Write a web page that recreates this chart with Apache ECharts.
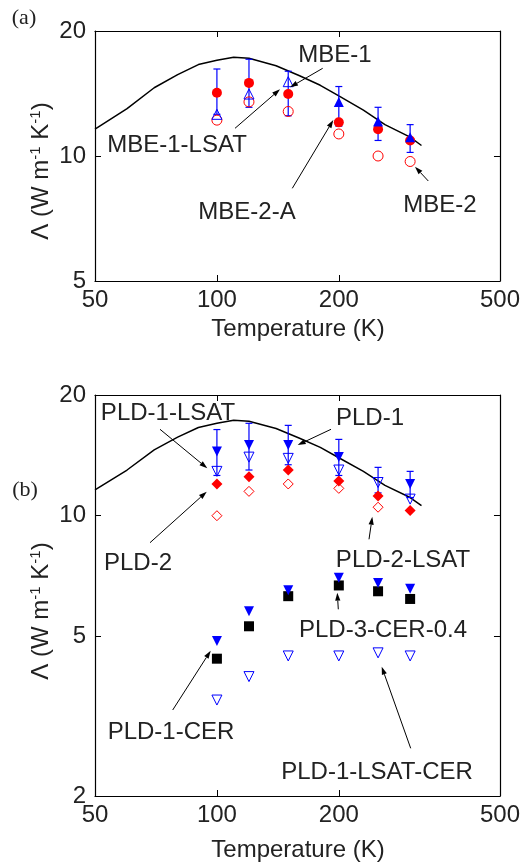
<!DOCTYPE html>
<html>
<head>
<meta charset="utf-8">
<title>Thermal conductivity vs temperature</title>
<style>
    html, body { margin: 0; padding: 0; background: #fff; }
    #main { width: 523px; height: 865px; }
</style>
</head>
<body>
<div id="main"></div>
<script src="https://cdn.jsdelivr.net/npm/echarts@6/dist/echarts.min.js"></script>
<script>
// ---- data ----
var temps = [100, 120, 150, 200, 250, 300];
var xTicks = [50, 100, 200, 500];
var yTicksA = [5, 10, 20];
var yTicksB = [2, 5, 10, 20];

// theory curve (same in both panels)
var curveT = [50, 60, 70, 80, 90, 100, 110, 120, 140, 160, 180, 200, 230, 260, 300, 320];
var curveV = [11.6, 13.0, 14.6, 15.7, 16.6, 17.0, 17.3, 17.2, 16.5, 15.6, 14.8, 13.95, 12.9, 11.9, 11.1, 10.6];

// panel (a)
var mbeFilledCircle = [14.2, 15.0, 14.1, 12.05, 11.6, 10.9];
var mbeOpenCircle = [12.2, 13.5, 12.8, 11.3, 10.0, 9.7];
var lsatT = [100, 120, 150];
var mbeOpenTri = [12.6, 14.1, 15.1];
var mbeT2 = [200, 250, 300];
var mbeFilledTri = [13.5, 12.1, 11.1];
var errLowA = [12.6, 13.1, 12.5, 11.8, 10.9, 10.2];
var errHighA = [16.2, 17.1, 16.0, 14.7, 13.1, 11.9];

// panel (b)
var pld1 = [14.45, 15.0, 15.0, 14.0, null, 12.0];
var pld1Lsat = [12.9, 14.0, 13.9, 13.0, 12.1, 11.0];
var pld2 = [12.0, 12.5, 13.0, 12.2, 11.2, 10.3];
var pld2LsatT = [100, 120, 150, 200, 250];
var pld2Lsat = [10.0, 11.5, 12.0, 11.7, 10.5];
var errLowB = [12.6, 13.0, 13.4, 12.6, 11.4, 11.1];
var errHighB = [16.4, 17.0, 16.8, 15.5, 13.2, 12.9];
var pld1Cer = [4.87, 5.78, 6.52, 7.0, 6.8, 6.57];
var pld3Cer = [4.40, 5.30, 6.30, 6.70, 6.48, 6.2];
var pld1LsatCer = [3.47, 3.97, 4.47, 4.47, 4.55, 4.47];

// ---- helpers ----
var FONT = 'Liberation Sans, Arial, sans-serif';
var RED = '#ff0000', BLUE = '#0000ff';

function pairs(xs, ys) {
    var out = [];
    for (var i = 0; i < xs.length; i++) {
        if (ys[i] != null) out.push([xs[i], ys[i]]);
    }
    return out;
}
function errData(lo, hi) {
    return temps.map(function (t, i) { return [t, lo[i], hi[i]]; });
}

function xAxis(grid, pos) {
    var main = pos === 'bottom';
    return {
        type: 'log', logBase: 10, gridIndex: grid, position: pos, min: 50, max: 500,
        axisLine: { show: true, onZero: false, lineStyle: { color: '#000', width: 1.2 } },
        axisTick: { show: true, inside: true, length: 6, customValues: xTicks, lineStyle: { color: '#000' } },
        axisLabel: { show: main, customValues: xTicks, margin: 7, color: '#222', fontSize: 24, fontFamily: FONT },
        splitLine: { show: false }, minorTick: { show: false }
    };
}
function yAxis(grid, pos, min, ticks) {
    var main = pos === 'left';
    return {
        type: 'log', logBase: 10, gridIndex: grid, position: pos, min: min, max: 20,
        axisLine: { show: true, onZero: false, lineStyle: { color: '#000', width: 1.2 } },
        axisTick: { show: true, inside: true, length: 6, customValues: ticks, lineStyle: { color: '#000' } },
        axisLabel: { show: main, customValues: ticks, margin: 9, color: '#222', fontSize: 24, fontFamily: FONT },
        splitLine: { show: false }, minorTick: { show: false }
    };
}

function scatter(ax, data, symbol, size, fill, stroke, rotate) {
    return {
        type: 'scatter', xAxisIndex: ax, yAxisIndex: ax, data: data,
        symbol: symbol, symbolSize: size, symbolRotate: rotate || 0, z: 4,
        itemStyle: { color: fill, borderColor: stroke, borderWidth: fill === 'transparent' ? 1 : 0, opacity: 1 }
    };
}
function curve(ax) {
    return {
        type: 'line', xAxisIndex: ax, yAxisIndex: ax, data: pairs(curveT, curveV),
        showSymbol: false, symbol: 'none', z: 2,
        lineStyle: { color: '#000', width: 1.5 }
    };
}
function errorBars(ax, data) {
    return {
        type: 'custom', xAxisIndex: ax, yAxisIndex: ax, data: data, z: 3,
        encode: { x: 0, y: [1, 2] },
        renderItem: function (params, api) {
            var x = api.value(0);
            var p1 = api.coord([x, api.value(1)]);
            var p2 = api.coord([x, api.value(2)]);
            var w = 3.5, st = { stroke: BLUE, lineWidth: 1.2 };
            return {
                type: 'group', children: [
                    { type: 'line', shape: { x1: p1[0], y1: p1[1], x2: p2[0], y2: p2[1] }, style: st },
                    { type: 'line', shape: { x1: p1[0] - w, y1: p1[1], x2: p1[0] + w, y2: p1[1] }, style: st },
                    { type: 'line', shape: { x1: p2[0] - w, y1: p2[1], x2: p2[0] + w, y2: p2[1] }, style: st }
                ]
            };
        }
    };
}

// annotations: [text, tx, ty, arrow x1, y1, x2, y2] in pixels
var notes = [
    ['MBE-1', 335, 55, 322.7, 68.3, 290, 87.3],
    ['MBE-1-LSAT', 177, 145, 235, 128.3, 280, 89.3],
    ['MBE-2-A', 247, 212, 292.3, 188.3, 333.3, 120],
    ['MBE-2', 440, 205, 428.3, 181, 415, 166.7],
    ['PLD-1-LSAT', 168, 413, 160, 429.3, 207.3, 468.3],
    ['PLD-1', 370, 418, 331, 429.3, 297.7, 445],
    ['PLD-2', 138, 563, 150, 542.7, 206.7, 491.7],
    ['PLD-2-LSAT', 403, 560, 369, 539.3, 372.3, 516.7],
    ['PLD-3-CER-0.4', 383, 630, 338.3, 609.3, 337.3, 592.7],
    ['PLD-1-CER', 171, 732, 172.7, 710, 210.7, 650.7],
    ['PLD-1-LSAT-CER', 377, 772, 410.7, 748.3, 381.7, 666.7]
];

function arrow(x1, y1, x2, y2) {
    var a = Math.atan2(y2 - y1, x2 - x1), L = 8, W = 2.6;
    var bx = x2 - L * Math.cos(a), by = y2 - L * Math.sin(a);
    var sx = W * Math.sin(a), sy = W * Math.cos(a);
    return [
        { type: 'line', shape: { x1: x1, y1: y1, x2: bx, y2: by }, style: { stroke: '#000', lineWidth: 1 }, z: 10 },
        { type: 'polygon', shape: { points: [[x2, y2], [bx + sx, by - sy], [bx - sx, by + sy]] }, style: { fill: '#000' }, z: 10 }
    ];
}

var graphics = [];
notes.forEach(function (n) {
    graphics.push({
        type: 'text', x: n[1], y: n[2], z: 10,
        style: { text: n[0], font: '24px ' + FONT, fill: '#222', align: 'center', verticalAlign: 'middle' }
    });
    graphics = graphics.concat(arrow(n[3], n[4], n[5], n[6]));
});
[['(a)', 24, 18], ['(b)', 25, 490]].forEach(function (p) {
    graphics.push({
        type: 'text', x: p[1], y: p[2],
        style: { text: p[0], font: '22px Liberation Serif, Times New Roman, serif', fill: '#222', align: 'center', verticalAlign: 'middle' }
    });
});
[171, 611].forEach(function (cy) {
    graphics.push({
        type: 'text', x: 41, y: cy, rotation: Math.PI / 2,
        style: {
            text: 'Λ (W m{s|-1} K{s|-1})',
            font: '24px ' + FONT, fill: '#222', align: 'center', verticalAlign: 'middle',
            rich: { s: { fontSize: 15, fontFamily: FONT, fill: '#222', verticalAlign: 'top', lineHeight: 26 } }
        }
    });
});
[329, 850].forEach(function (cy) {
    graphics.push({
        type: 'text', x: 298, y: cy,
        style: { text: 'Temperature (K)', font: '24px ' + FONT, fill: '#222', align: 'center', verticalAlign: 'middle' }
    });
});

var chart = echarts.init(document.getElementById('main'));
chart.setOption({
    animation: false,
    backgroundColor: '#fff',
    grid: [
        { left: 95, top: 31, width: 406, height: 250 },
        { left: 95, top: 395, width: 406, height: 401 }
    ],
    xAxis: [xAxis(0, 'bottom'), xAxis(1, 'bottom'), xAxis(0, 'top'), xAxis(1, 'top')],
    yAxis: [yAxis(0, 'left', 5, yTicksA), yAxis(1, 'left', 2, yTicksB), yAxis(0, 'right', 5, yTicksA), yAxis(1, 'right', 2, yTicksB)],
    series: [
        curve(0),
        errorBars(0, errData(errLowA, errHighA)),
        scatter(0, pairs(temps, mbeFilledCircle), 'circle', 10, RED, RED),
        scatter(0, pairs(temps, mbeOpenCircle), 'circle', 10, 'transparent', RED),
        scatter(0, pairs(lsatT, mbeOpenTri), 'triangle', 10, 'transparent', BLUE),
        scatter(0, pairs(mbeT2, mbeFilledTri), 'triangle', 10, BLUE, BLUE),

        curve(1),
        errorBars(1, errData(errLowB, errHighB)),
        scatter(1, pairs(temps, pld2), 'diamond', 11, RED, RED),
        scatter(1, pairs(pld2LsatT, pld2Lsat), 'diamond', 10, 'transparent', RED),
        scatter(1, pairs(temps, pld1), 'triangle', 10, BLUE, BLUE, 180),
        scatter(1, pairs(temps, pld1Lsat), 'triangle', 10, 'transparent', BLUE, 180),
        scatter(1, pairs(temps, pld3Cer), 'rect', 10, '#000', '#000'),
        scatter(1, pairs(temps, pld1Cer), 'triangle', 10, BLUE, BLUE, 180),
        scatter(1, pairs(temps, pld1LsatCer), 'triangle', 10, 'transparent', BLUE, 180)
    ],
    graphic: graphics
});
</script>
</body>
</html>
